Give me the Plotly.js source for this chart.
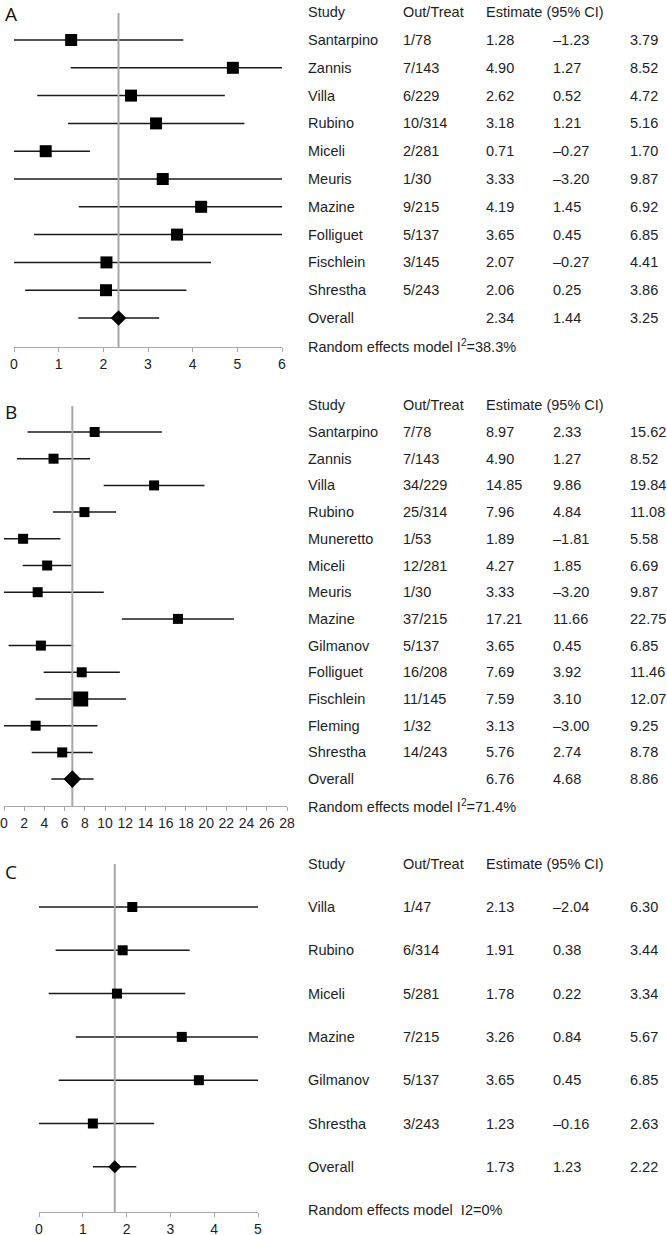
<!DOCTYPE html>
<html>
<head>
<meta charset="utf-8">
<script src="https://cdn.plot.ly/plotly-3.0.1.min.js"></script>
<style>
  html, body { margin: 0; padding: 0; background: #fff; }
  #chart { width: 667px; height: 1235px; }
</style>
</head>
<body>
<div id="chart"></div>
<script>
/* ─── Data: panel A ─── */
const studiesA = ['Santarpino', 'Zannis', 'Villa', 'Rubino', 'Miceli', 'Meuris', 'Mazine', 'Folliguet', 'Fischlein', 'Shrestha'];
const eventsA  = ['1/78', '7/143', '6/229', '10/314', '2/281', '1/30', '9/215', '5/137', '3/145', '5/243'];
const estA  = [1.28, 4.90, 2.62, 3.18, 0.71, 3.33, 4.19, 3.65, 2.07, 2.06];
const lowA  = [-1.23, 1.27, 0.52, 1.21, -0.27, -3.20, 1.45, 0.45, -0.27, 0.25];
const highA = [3.79, 8.52, 4.72, 5.16, 1.70, 9.87, 6.92, 6.85, 4.41, 3.86];
const overallA = [2.34, 1.44, 3.25];
const noteA = 'Random effects model I<sup>2</sup>=38.3%';

/* ─── Data: panel B ─── */
const studiesB = ['Santarpino', 'Zannis', 'Villa', 'Rubino', 'Muneretto', 'Miceli', 'Meuris', 'Mazine', 'Gilmanov', 'Folliguet', 'Fischlein', 'Fleming', 'Shrestha'];
const eventsB  = ['7/78', '7/143', '34/229', '25/314', '1/53', '12/281', '1/30', '37/215', '5/137', '16/208', '11/145', '1/32', '14/243'];
const estB  = [8.97, 4.90, 14.85, 7.96, 1.89, 4.27, 3.33, 17.21, 3.65, 7.69, 7.59, 3.13, 5.76];
const lowB  = [2.33, 1.27, 9.86, 4.84, -1.81, 1.85, -3.20, 11.66, 0.45, 3.92, 3.10, -3.00, 2.74];
const highB = [15.62, 8.52, 19.84, 11.08, 5.58, 6.69, 9.87, 22.75, 6.85, 11.46, 12.07, 9.25, 8.78];
const overallB = [6.76, 4.68, 8.86];
const noteB = 'Random effects model I<sup>2</sup>=71.4%';

/* ─── Data: panel C ─── */
const studiesC = ['Villa', 'Rubino', 'Miceli', 'Mazine', 'Gilmanov', 'Shrestha'];
const eventsC  = ['1/47', '6/314', '5/281', '7/215', '5/137', '3/243'];
const estC  = [2.13, 1.91, 1.78, 3.26, 3.65, 1.23];
const lowC  = [-2.04, 0.38, 0.22, 0.84, 0.45, -0.16];
const highC = [6.30, 3.44, 3.34, 5.67, 6.85, 2.63];
const overallC = [1.73, 1.23, 2.22];
const noteC = 'Random effects model\u00a0\u00a0I2=0%';

/* ─── Layout in pixels ─── */
const W = 667, H = 1235;
const FONT = 'Liberation Sans, Arial, sans-serif';
const TEXT_COLOR = '#1e1e1e';
const TEXT_SIZE = 14.5;

const panels = [
    { letter: 'A', letterY: 14, studies: studiesA, events: eventsA, est: estA, low: lowA, high: highA, overall: overallA, note: noteA,
      xPx: [14, 282], xRange: [0, 6], dtick: 1, rowY0: 40, rowStep: 27.8, topPx: 13, axisPx: 347, sq: 12, dia: 12 },
    { letter: 'B', letterY: 412, studies: studiesB, events: eventsB, est: estB, low: lowB, high: highB, overall: overallB, note: noteB,
      xPx: [4, 287], xRange: [0, 28], dtick: 2, rowY0: 432, rowStep: 26.7, topPx: 406, axisPx: 806, sq: 10, dia: 13.5,
      big: { Fischlein: 15 } },
    { letter: 'C', letterY: 872, studies: studiesC, events: eventsC, est: estC, low: lowC, high: highC, overall: overallC, note: noteC,
      xPx: [39, 258], xRange: [0, 5], dtick: 1, rowY0: 907, rowStep: 43.3, topPx: 864, axisPx: 1212, sq: 10, dia: 10 },
];

// table columns (left edges, px)
const COLS = { study: 306, events: 401, est: 484, low: 551, high: 628 };

function fmt(v) {
    return (v < 0 ? '\u2013' : '') + Math.abs(v).toFixed(2);
}

const traces = [];
const annotations = [];
const layout = {
    width: W,
    height: H,
    margin: { l: 0, r: 0, t: 0, b: 0 },
    paper_bgcolor: '#fff',
    plot_bgcolor: 'rgba(0,0,0,0)',
    showlegend: false,
    font: { family: FONT, size: TEXT_SIZE, color: TEXT_COLOR },
};

panels.forEach((p, i) => {
    const n = i === 0 ? '' : String(i + 1);
    const xa = 'x' + n, ya = 'y' + n;
    const rTop = (p.topPx - p.rowY0) / p.rowStep;
    const rBot = (p.axisPx - p.rowY0) / p.rowStep;
    const rows = p.studies.map((_, k) => k);
    const overallRow = p.studies.length;

    // confidence intervals (clipped by the plot area)
    const cx = [], cy = [];
    rows.forEach(k => { cx.push(p.low[k], p.high[k], null); cy.push(k, k, null); });
    cx.push(p.overall[1], p.overall[2], null); cy.push(overallRow, overallRow, null);
    traces.push({ x: cx, y: cy, xaxis: xa, yaxis: ya, type: 'scatter', mode: 'lines',
        line: { color: '#1a1a1a', width: 1.5 }, hoverinfo: 'skip' });

    // reference line at the pooled estimate
    traces.push({ x: [p.overall[0], p.overall[0]], y: [rTop, rBot], xaxis: xa, yaxis: ya,
        type: 'scatter', mode: 'lines', line: { color: '#a8a8a8', width: 2 }, hoverinfo: 'skip' });

    // study estimates
    traces.push({ x: p.est, y: rows, xaxis: xa, yaxis: ya, type: 'scatter', mode: 'markers',
        marker: { symbol: 'square', color: '#000', opacity: 1, line: { width: 0 },
                  size: p.studies.map(s => (p.big && p.big[s]) || p.sq) },
        cliponaxis: false });

    // pooled estimate
    traces.push({ x: [p.overall[0]], y: [overallRow], xaxis: xa, yaxis: ya, type: 'scatter', mode: 'markers',
        marker: { symbol: 'diamond', color: '#000', opacity: 1, line: { width: 0 }, size: p.dia }, cliponaxis: false });

    layout['xaxis' + n] = {
        domain: [p.xPx[0] / W, p.xPx[1] / W],
        range: p.xRange,
        anchor: ya,
        dtick: p.dtick,
        showline: true, linecolor: '#a8a8a8', linewidth: 1,
        ticks: 'outside', ticklen: 4, tickcolor: '#a8a8a8',
        showgrid: false, zeroline: false,
        tickfont: { family: FONT, size: 14, color: TEXT_COLOR },
        fixedrange: true,
    };
    layout['yaxis' + n] = {
        domain: [1 - p.axisPx / H, 1 - p.topPx / H],
        range: [rBot, rTop],
        anchor: xa,
        visible: false,
        fixedrange: true,
    };

    // table text; rows outside the axis range go through paper coordinates
    const rowToPaper = row => 1 - (p.rowY0 + row * p.rowStep) / H;
    const addText = (text, col, row) => {
        const inside = row >= rTop && row <= rBot;
        annotations.push({
            text, x: COLS[col] / W, xref: 'paper', xanchor: 'left',
            y: inside ? row : rowToPaper(row), yref: inside ? ya : 'paper',
            yanchor: 'middle', showarrow: false,
            font: { family: FONT, size: TEXT_SIZE, color: TEXT_COLOR },
        });
    };
    addText('Study', 'study', -1);
    addText('Out/Treat', 'events', -1);
    addText('Estimate (95% CI)', 'est', -1);
    rows.forEach(k => {
        addText(p.studies[k], 'study', k);
        addText(p.events[k], 'events', k);
        addText(fmt(p.est[k]), 'est', k);
        addText(fmt(p.low[k]), 'low', k);
        addText(fmt(p.high[k]), 'high', k);
    });
    addText('Overall', 'study', overallRow);
    addText(fmt(p.overall[0]), 'est', overallRow);
    addText(fmt(p.overall[1]), 'low', overallRow);
    addText(fmt(p.overall[2]), 'high', overallRow);
    addText(p.note, 'study', overallRow + 1);

    // panel letter
    annotations.push({
        text: p.letter, x: 3 / W, xref: 'paper', xanchor: 'left',
        y: 1 - p.letterY / H, yref: 'paper', yanchor: 'middle', showarrow: false,
        font: { family: 'Open Sans, sans-serif', size: 19, color: '#111' },
    });
});

layout.annotations = annotations;

Plotly.newPlot('chart', traces, layout, { staticPlot: true, displayModeBar: false });
</script>
</body>
</html>
